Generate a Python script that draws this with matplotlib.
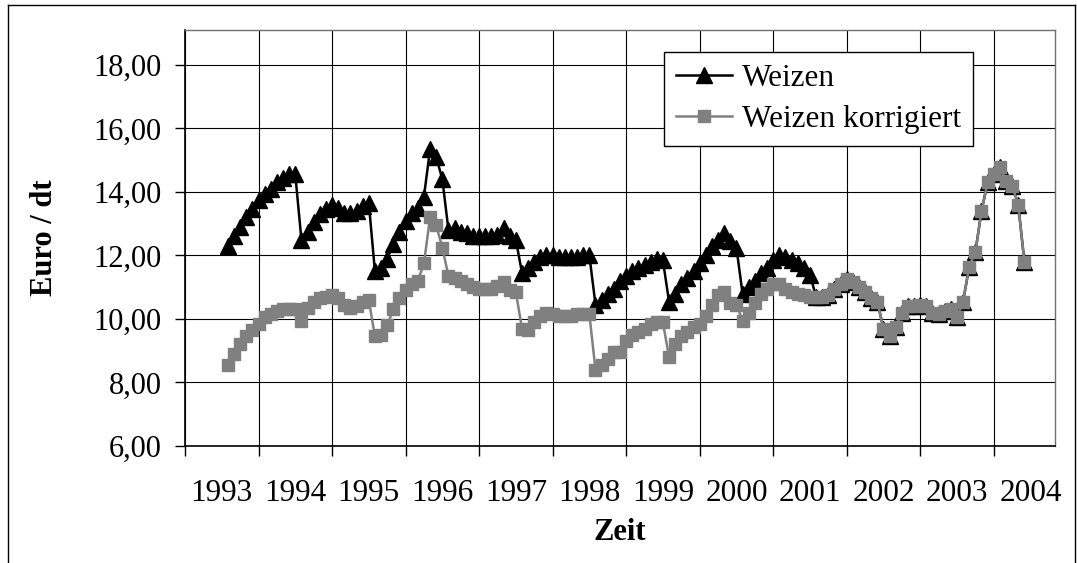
import numpy as np
import matplotlib.pyplot as plt
from matplotlib.lines import Line2D

plt.rcParams['font.family'] = ['Liberation Serif', 'DejaVu Serif']

# Monatswerte (Euro / dt), erster Wert August 1993
start_jahr = 1993
start_monat = 8

weizen = [
    12.3, 12.6, 12.9, 13.2, 13.45, 13.75, 13.95, 14.1, 14.3, 14.45, 14.55, 14.55,
    12.5, 12.75, 13.05, 13.3, 13.45, 13.6, 13.5, 13.35, 13.35, 13.4, 13.55, 13.65,
    11.5, 11.6, 11.9, 12.35, 12.75, 13.1, 13.35, 13.5, 13.85, 15.35, 15.1, 14.4,
    12.8, 12.85, 12.75, 12.7, 12.6, 12.6, 12.6, 12.6, 12.65, 12.85, 12.6, 12.5,
    11.45, 11.6, 11.8, 11.95, 12.0, 12.0, 11.95, 11.95, 11.95, 11.95, 12.0, 12.0,
    10.45, 10.6, 10.8, 10.95, 11.2, 11.35, 11.5, 11.6, 11.7, 11.8, 11.9, 11.85,
    10.55, 10.8, 11.1, 11.3, 11.5, 11.75, 12.0, 12.3, 12.5, 12.7, 12.45, 12.25,
    10.8, 11.0, 11.2, 11.45, 11.6, 11.85, 12.0, 11.95, 11.85, 11.75, 11.6, 11.4,
    10.7, 10.7, 10.75, 10.95, 11.1, 11.25, 11.15, 11.0, 10.85, 10.65, 10.55, 9.7,
    9.45, 9.75, 10.2, 10.4, 10.4, 10.45, 10.4, 10.2, 10.15, 10.25, 10.3, 10.05,
    10.55, 11.65, 12.1, 13.4, 14.3, 14.55, 14.8, 14.35, 14.2, 13.6, 11.8,
]

weizen_korr = [
    8.55, 8.9, 9.2, 9.45, 9.65, 9.85, 10.05, 10.15, 10.25, 10.3, 10.3, 10.3,
    9.95, 10.35, 10.55, 10.65, 10.7, 10.75, 10.65, 10.45, 10.35, 10.4, 10.55, 10.6,
    9.45, 9.5, 9.8, 10.3, 10.65, 10.9, 11.1, 11.2, 11.75, 13.2, 12.95, 12.25,
    11.35, 11.3, 11.2, 11.1, 11.0, 10.95, 10.95, 10.95, 11.05, 11.15, 10.9, 10.85,
    9.7, 9.65, 9.9, 10.1, 10.2, 10.15, 10.1, 10.1, 10.1, 10.15, 10.15, 10.15,
    8.4, 8.55, 8.75, 8.95, 8.95, 9.3, 9.5, 9.6, 9.7, 9.85, 9.9, 9.9,
    8.8, 9.2, 9.45, 9.6, 9.75, 9.85, 10.1, 10.45, 10.75, 10.85, 10.5, 10.45,
    9.95, 10.2, 10.5, 10.8, 10.95, 11.1, 11.1, 10.95, 10.85, 10.8, 10.75, 10.7,
    10.7, 10.7, 10.75, 10.95, 11.1, 11.25, 11.15, 11.0, 10.85, 10.65, 10.55, 9.7,
    9.45, 9.75, 10.2, 10.4, 10.4, 10.45, 10.4, 10.2, 10.15, 10.25, 10.3, 10.05,
    10.55, 11.65, 12.1, 13.4, 14.3, 14.55, 14.8, 14.35, 14.2, 13.6, 11.8,
]

jahre = list(range(1993, 2005))
y_ticks = [6, 8, 10, 12, 14, 16, 18]

# x als Jahr + Monatsanteil
monate = np.arange(len(weizen)) + (start_monat - 1)
x = start_jahr + monate / 12

W, H = 1077, 563
fig = plt.figure(figsize=(W / 100, H / 100), dpi=100)
ax = fig.add_axes([185 / W, (H - 446) / H, 870 / W, 416 / H])

ax.plot(x, weizen, color='black', lw=1.8, marker='^', ms=11.5, label='Weizen', zorder=3)
ax.plot(x, weizen_korr, color='#808080', lw=1.8, marker='s', ms=9,
        label='Weizen korrigiert', zorder=4)

ax.set_xlim(1993, 1993 + 142 / 12)
ax.set_ylim(6, 19.1)

# Jahresgrenzen als Gitter, Beschriftung in der Mitte des Jahres
ax.set_xticks(jahre)
ax.set_xticks([j + 0.5 for j in jahre], minor=True)
ax.set_xticklabels([str(j) for j in jahre], minor=True)
ax.tick_params(axis='x', which='major', direction='out', length=7, width=1, labelbottom=False)
ax.tick_params(axis='x', which='minor', length=0, pad=24, labelsize=22.5)

ax.set_yticks(y_ticks)
ax.set_yticklabels([f"{v:.2f}".replace('.', ',') for v in y_ticks])
ax.tick_params(axis='y', direction='out', length=7, width=1, pad=10, labelsize=22)

ax.grid(True, which='major', color='black', lw=0.8)
ax.set_axisbelow(True)

for s in ['left', 'bottom']:
    ax.spines[s].set_color('black')
    ax.spines[s].set_linewidth(1.2)
for s in ['top', 'right']:
    ax.spines[s].set_color('#707070')
    ax.spines[s].set_linewidth(1)

ax.set_ylabel('Euro / dt', fontsize=22, fontweight='bold')
ax.yaxis.set_label_coords(-(185 - 45) / 870, 0.5)
ax.yaxis.label.set_va('center')
ax.set_xlabel('Zeit', fontsize=22, fontweight='bold')
ax.xaxis.set_label_coords(0.5, -(532 - 446) / 416)
ax.xaxis.label.set_va('center')

leg = ax.legend(loc='upper left', bbox_to_anchor=(0.5506, 0.947), borderaxespad=0,
                fancybox=False, edgecolor='black', framealpha=1, fontsize=22.5,
                handlelength=1.8, handletextpad=0.3, borderpad=0.38, labelspacing=0.38)
leg.get_frame().set_linewidth(1)

# Rahmen des Diagrammbereichs
for xs, ys in [([8, 8], [5, H]), ([8, 1075], [5, 5]), ([1075, 1075], [5, H])]:
    fig.add_artist(Line2D([v / W for v in xs], [1 - v / H for v in ys],
                          transform=fig.transFigure, color='black', lw=1))

fig.savefig('out.png', dpi=100)
